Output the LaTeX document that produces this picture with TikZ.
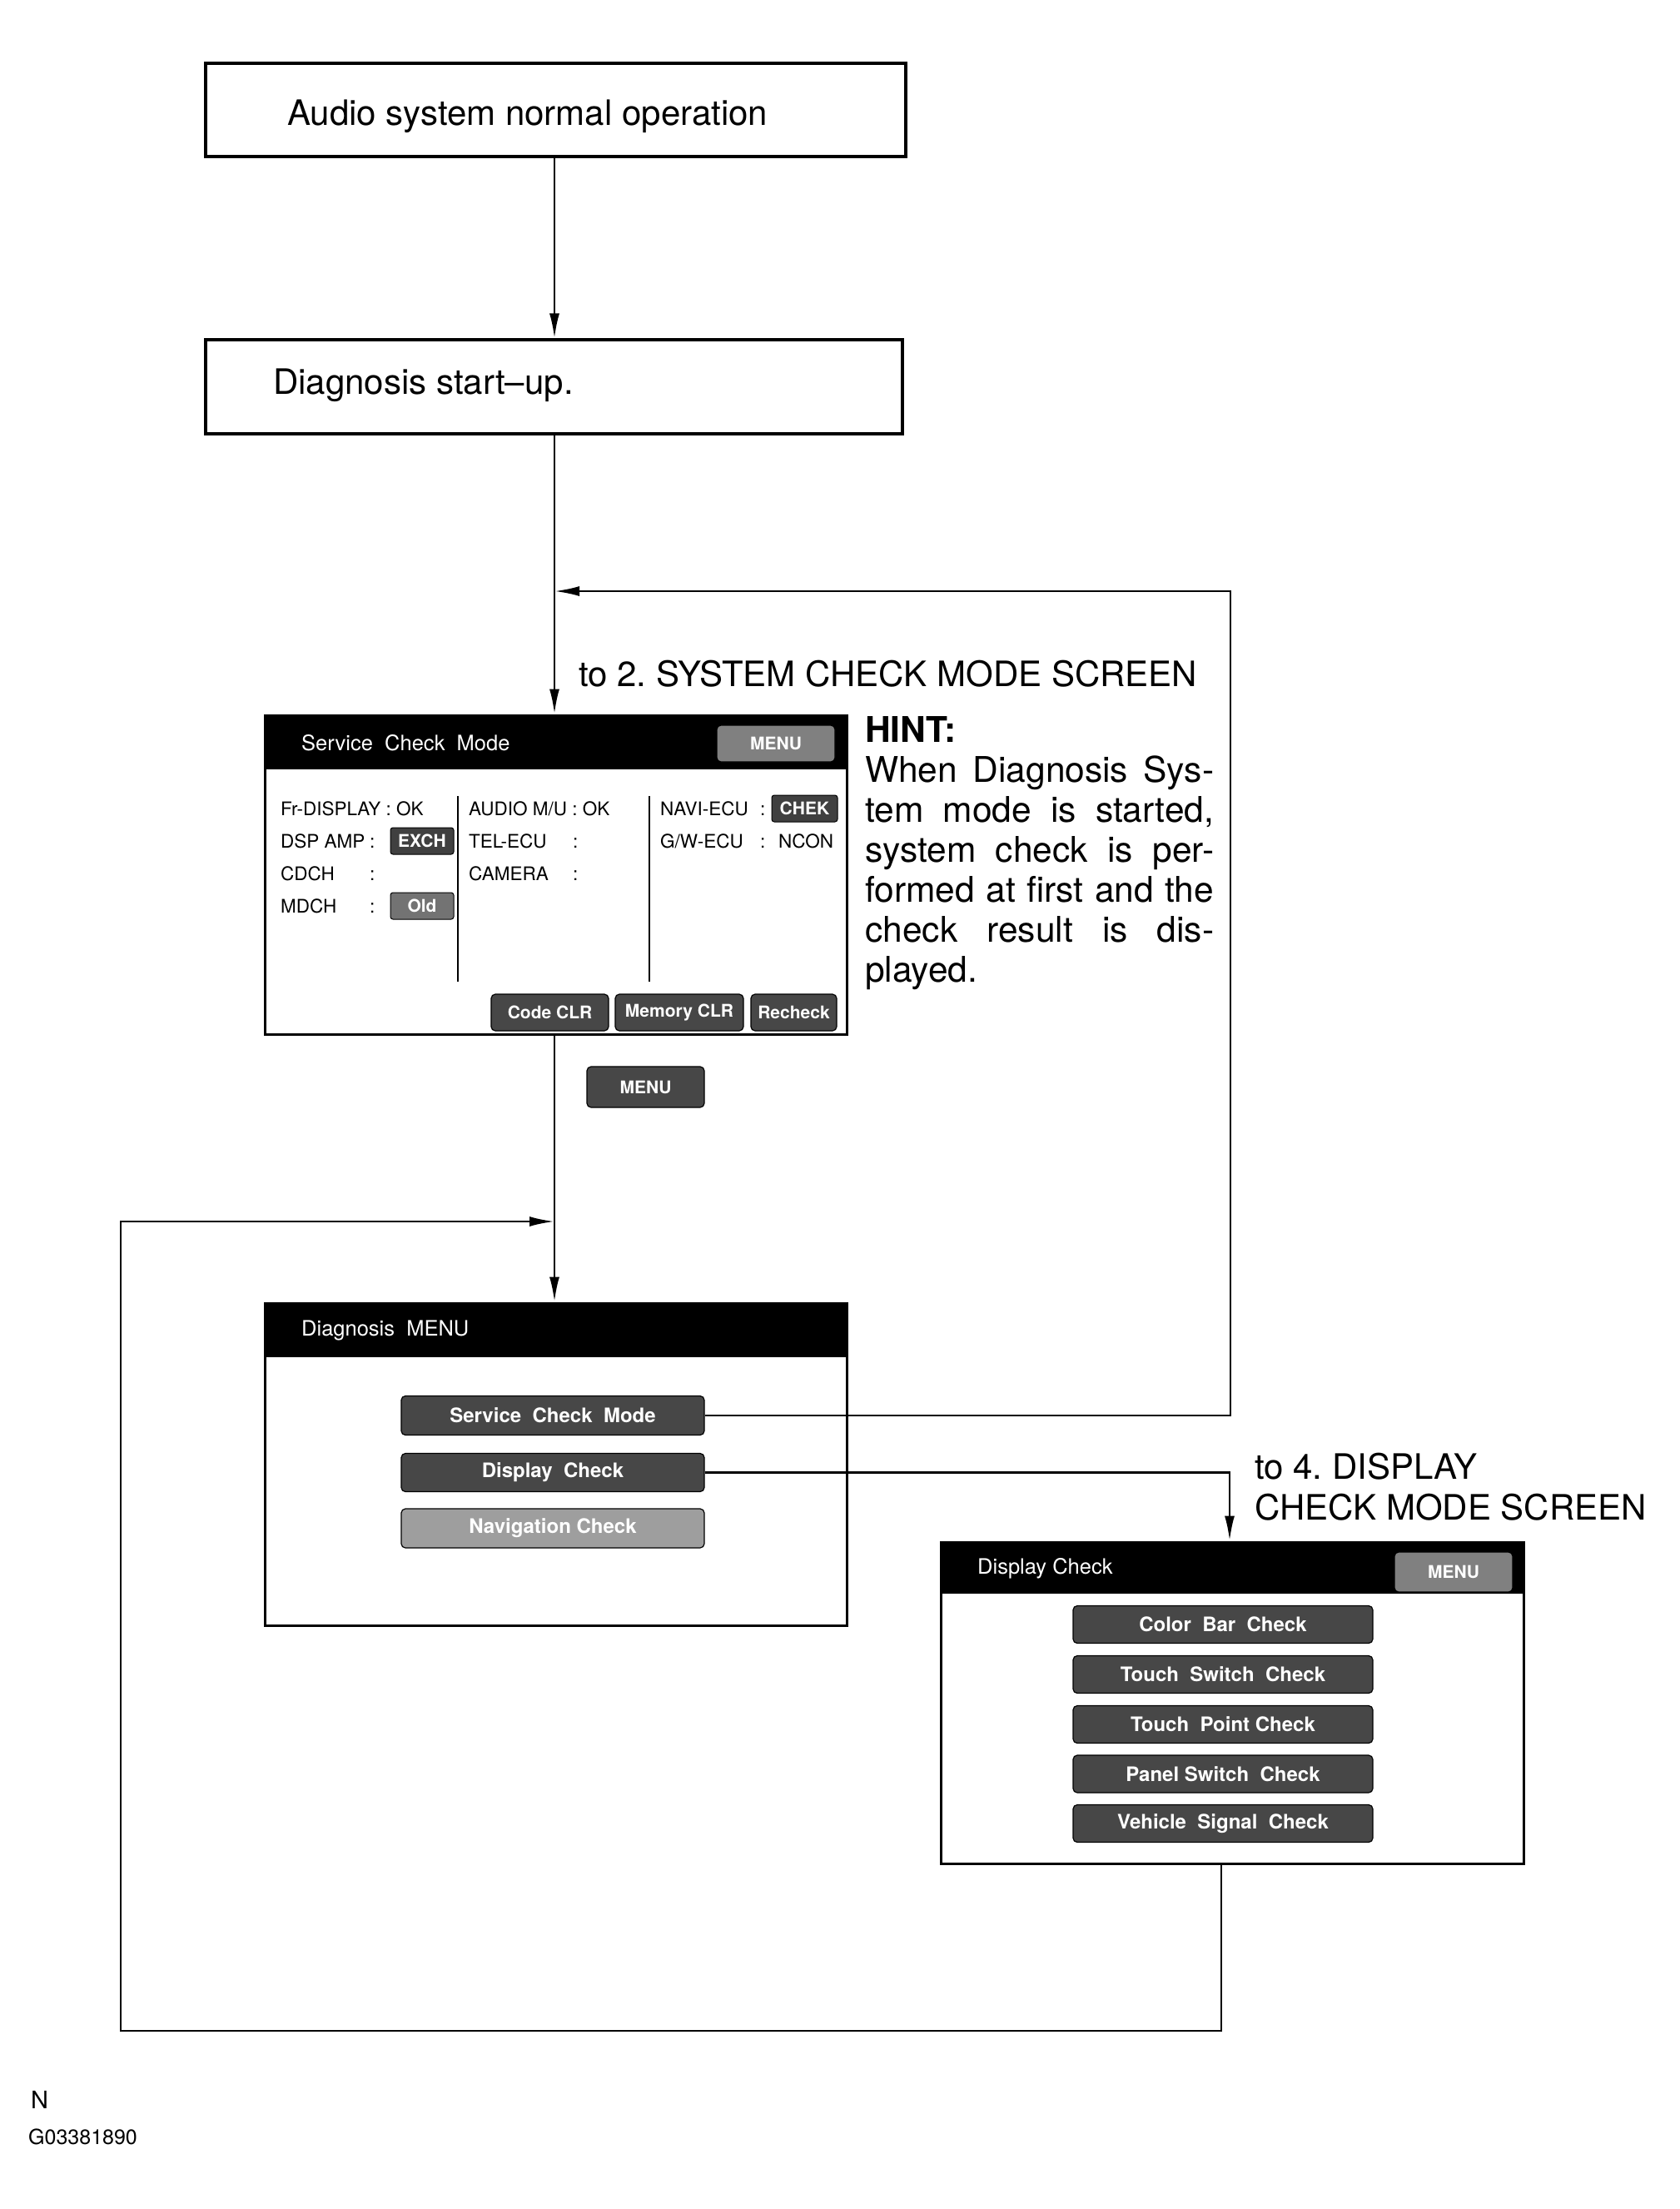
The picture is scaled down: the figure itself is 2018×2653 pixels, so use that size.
\documentclass[tikz,border=0pt]{standalone}
\usepackage{fontspec}
\setmainfont{TeX Gyre Heros}
\usetikzlibrary{arrows.meta}
\frenchspacing
\begin{document}
\begin{tikzpicture}[x=1pt,y=-1pt,
  flowbox/.style={draw, line width=3.2pt, fill=white, inner sep=0pt},
  scr/.style={draw, line width=3pt, fill=white, inner sep=0pt},
  tbar/.style={fill=black, inner sep=0pt},
  big/.style={inner sep=0pt, font=\fontsize{42}{48}\selectfont},
  hint/.style={inner sep=0pt, anchor=base west, font=\fontsize{42.5}{48}\selectfont},
  ttl/.style={inner sep=0pt, anchor=west, text=white, font=\fontsize{25.5}{28}\selectfont},
  rt/.style={inner sep=0pt, anchor=base west, font=\fontsize{22.5}{26}\selectfont},
  btn/.style={draw=black, line width=1.2pt, rounded corners=5pt, fill=black!72, text=white,
     inner sep=0pt, font=\bfseries\fontsize{24}{26}\selectfont},
  sbtn/.style={btn, font=\bfseries\fontsize{21}{24}\selectfont},
  stat/.style={draw=black, line width=1pt, rounded corners=3pt, fill=black!75, text=white,
     inner sep=0pt, minimum height=32pt, font=\bfseries\fontsize{21}{24}\selectfont},
  line/.style={line width=2.6pt},
  arr/.style={line width=2.6pt, -{Latex[length=30pt,width=12pt]}}
]
\useasboundingbox (0,0) rectangle (2018,2653);

% helper coordinates
\coordinate (mx) at (666,0);
\coordinate (fbx) at (1478,0);
\coordinate (fbtop) at (1478,710);
\coordinate (dx) at (1477,0);
\coordinate (lp1) at (1467,2439);
\coordinate (lp2) at (145,2439);
\coordinate (lp3) at (145,1467);

% flow boxes
\node[flowbox, minimum width=841pt, minimum height=112pt] (box1) at (667.5,132) {};
\node[big, anchor=base west] (t1) at (345,150) {Audio system normal operation};
\node[flowbox, minimum width=837pt, minimum height=113pt] (box2) at (665.5,464.5) {};
\node[big, anchor=base west] (t2) at (328,473) {Diagnosis start\textendash up.};

% label
\node[big, anchor=west] (lab2) at (695,809) {to 2. SYSTEM CHECK MODE SCREEN};

% ---------- Service Check Mode screen ----------
\node[scr, minimum width=699pt, minimum height=383pt] (scr1) at (667.5,1050.5) {};
\node[tbar, minimum width=699pt, minimum height=66pt, anchor=north] (tb1) at (scr1.north) {};
\node[ttl] (tt1) at (362,892) {Service\ \ Check\ \ Mode};
\node[sbtn, fill=black!50, minimum width=142pt, minimum height=44pt] (menu1) at (932,893) {MENU};

\node[rt] (r11) at (337,979) {Fr-DISPLAY : OK};
\node[rt] (r12) at (337,1018) {DSP AMP};
\node[rt] (c12) at (444,1018) {:};
\node[stat, minimum width=76pt] (s12) at (507,1010) {EXCH};
\node[rt] (r13) at (337,1057) {CDCH};
\node[rt] (c13) at (444,1057) {:};
\node[rt] (r14) at (337,1096) {MDCH};
\node[rt] (c14) at (444,1096) {:};
\node[stat, fill=black!55, minimum width=76pt] (s14) at (507,1088) {Old};

\node[rt] (r21) at (563,979) {AUDIO M/U : OK};
\node[rt] (r22) at (563,1018) {TEL-ECU};
\node[rt] (c22) at (688,1018) {:};
\node[rt] (r23) at (563,1057) {CAMERA};
\node[rt] (c23) at (688,1057) {:};

\node[rt] (r31) at (793,979) {NAVI-ECU};
\node[rt] (c31) at (913,979) {:};
\node[stat, minimum width=79pt] (s31) at (966.5,971) {CHEK};
\node[rt] (r32) at (793,1018) {G/W-ECU};
\node[rt] (c32) at (913,1018) {:};
\node[rt] (n32) at (935,1018) {NCON};

\draw[line width=2.6pt] (550,956) -- (550,1179);
\draw[line width=2.6pt] (780,956) -- (780,1179);

\node[sbtn, minimum width=141pt, minimum height=44pt] (codeclr) at (660.5,1216) {Code CLR};
\node[sbtn, minimum width=154pt, minimum height=44pt] (memclr) at (816,1216) {Memory CLR};
\node[sbtn, minimum width=103pt, minimum height=44pt] (recheck) at (953.5,1216) {Recheck};

% MENU between screens
\node[sbtn, minimum width=141pt, minimum height=49pt] (menu2) at (775.5,1305.5) {MENU};

% HINT
\node[hint, font=\bfseries\fontsize{42.5}{48}\selectfont] (h0) at (1039,891) {HINT:};
\node[hint] (h1) at (1039,939) {\makebox[419pt][s]{When Diagnosis Sys-}};
\node[hint] (h2) at (1039,987) {\makebox[419pt][s]{tem mode is started,}};
\node[hint] (h3) at (1039,1035) {\makebox[419pt][s]{system check is per-}};
\node[hint] (h4) at (1039,1083) {\makebox[419pt][s]{formed at first and the}};
\node[hint] (h5) at (1039,1131) {\makebox[419pt][s]{check result is dis-}};
\node[hint] (h6) at (1039,1179) {played.};

% ---------- Diagnosis MENU screen ----------
\node[scr, minimum width=699pt, minimum height=387pt] (scr2) at (667.5,1758.5) {};
\node[tbar, minimum width=699pt, minimum height=66pt, anchor=north] (tb2) at (scr2.north) {};
\node[ttl] (tt2) at (362,1598) {Diagnosis\ \ MENU};
\node[btn, minimum width=364pt, minimum height=47pt] (scmbtn) at (664,1700) {Service\ \ Check\ \ Mode};
\node[btn, minimum width=364pt, minimum height=46pt] (dcbtn) at (664,1768.5) {Display\ \ Check};
\node[btn, fill=black!38, minimum width=364pt, minimum height=47pt] (ncbtn) at (664,1835.5) {Navigation Check};

% label 4
\node[big, anchor=west] (lab4a) at (1507,1761) {to 4. DISPLAY};
\node[big, anchor=west] (lab4b) at (1507,1810) {CHECK MODE SCREEN};

% ---------- Display Check screen ----------
\node[scr, minimum width=700pt, minimum height=386pt] (scr3) at (1480,2045) {};
\node[tbar, minimum width=700pt, minimum height=63pt, anchor=north] (tb3) at (scr3.north) {};
\node[ttl] (tt3) at (1174,1884) {Display Check};
\node[sbtn, fill=black!50, minimum width=142pt, minimum height=48pt] (menu3) at (1746,1888) {MENU};
\node[btn, minimum width=360pt, minimum height=45pt] (b1) at (1469,1951) {Color\ \ Bar\ \ Check};
\node[btn, minimum width=360pt, minimum height=45pt] (b2) at (1469,2011) {Touch\ \ Switch\ \ Check};
\node[btn, minimum width=360pt, minimum height=45pt] (b3) at (1469,2071) {Touch\ \ Point Check};
\node[btn, minimum width=360pt, minimum height=45pt] (b4) at (1469,2130.5) {Panel Switch\ \ Check};
\node[btn, minimum width=360pt, minimum height=45pt] (b5) at (1469,2190) {Vehicle\ \ Signal\ \ Check};

% footer
\node[inner sep=0pt, anchor=west, font=\fontsize{29}{32}\selectfont] (nn) at (37,2522) {N};
\node[inner sep=0pt, anchor=west, font=\fontsize{25}{28}\selectfont] (gg) at (34,2566) {G03381890};

% ---------- connectors ----------
\draw[arr] (box1.south -| mx) -- (box2.north -| mx);
\draw[arr] (box2.south -| mx) -- (scr1.north -| mx);
\draw[arr] (scmbtn.east) -- (scmbtn.east -| fbx) -- (fbtop) -- (fbtop -| mx);
\draw[arr] (scr1.south -| mx) -- (scr2.north -| mx);
\draw[arr] (dcbtn.east) -- (dcbtn.east -| dx) -- (scr3.north -| dx);
\draw[arr] (scr3.south -| lp1) -- (lp1) -- (lp2) -- (lp3) -- (lp3 -| mx);
\end{tikzpicture}
\end{document}
